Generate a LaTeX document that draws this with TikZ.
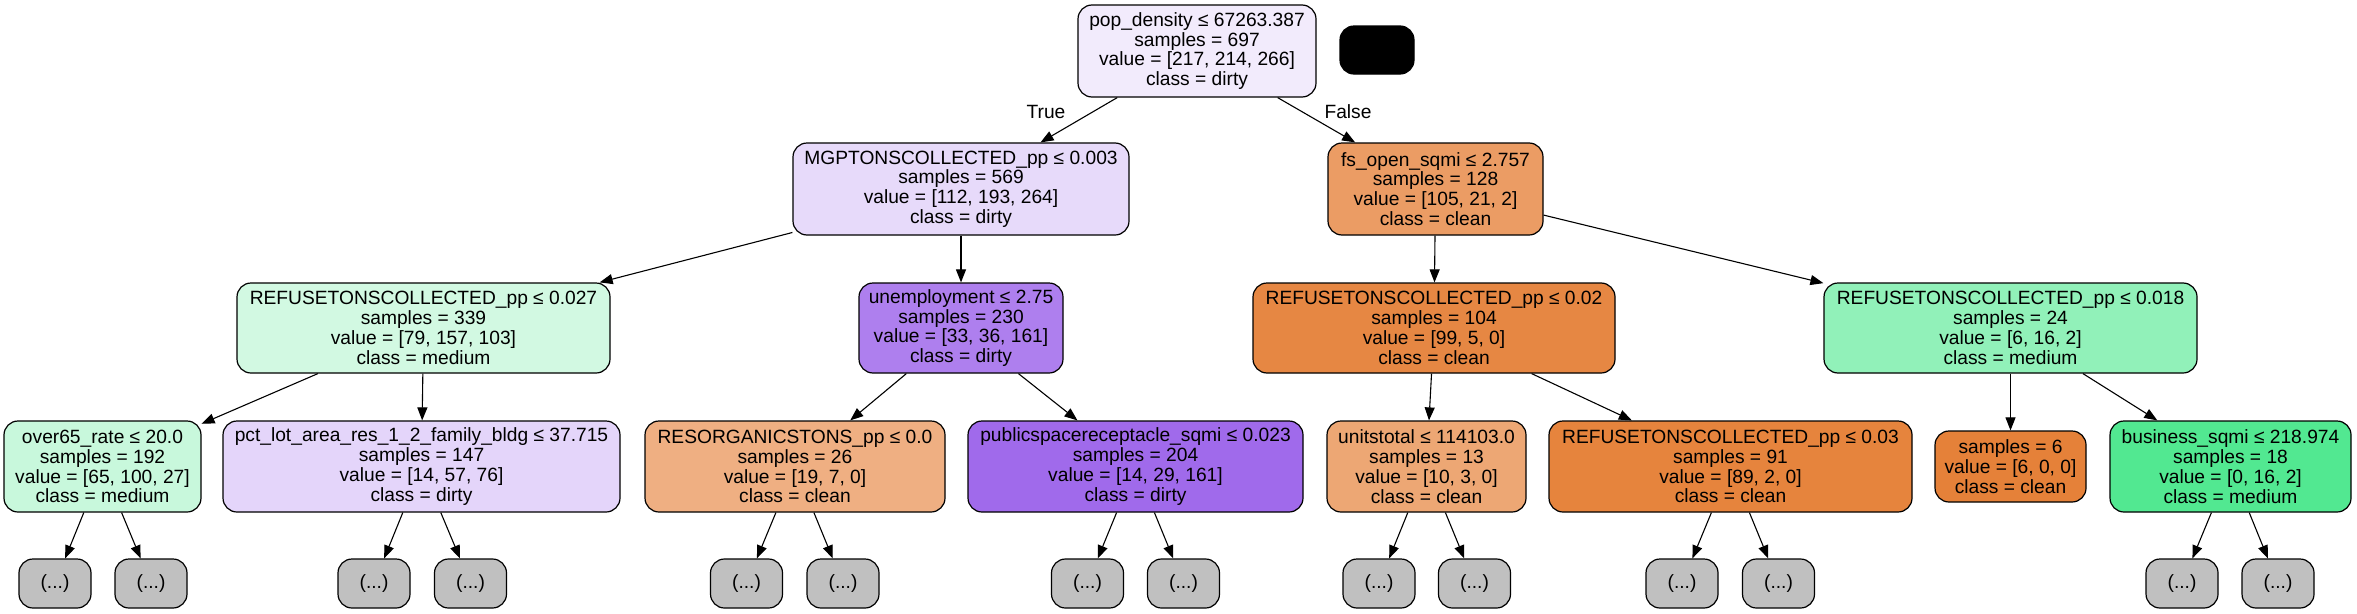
\documentclass[tikz,border=0pt]{standalone}
\usepackage{fontspec}
\setmainfont{Liberation Sans}
\usetikzlibrary{arrows.meta}
\definecolor{c0}{HTML}{F2EBFC}
\definecolor{c1}{HTML}{E7DAFA}
\definecolor{c2}{HTML}{EB9C64}
\definecolor{c3}{HTML}{D2F9E2}
\definecolor{c4}{HTML}{AE7FEE}
\definecolor{c5}{HTML}{E68743}
\definecolor{c6}{HTML}{91F1B9}
\definecolor{c7}{HTML}{C8F8DC}
\definecolor{c8}{HTML}{E4D5FA}
\definecolor{c9}{HTML}{EFAF82}
\definecolor{c10}{HTML}{A06AEB}
\definecolor{c11}{HTML}{EDA774}
\definecolor{c12}{HTML}{E6843D}
\definecolor{c13}{HTML}{E58139}
\definecolor{c14}{HTML}{52E891}
\definecolor{leafgray}{HTML}{C0C0C0}
\begin{document}
\begin{tikzpicture}[x=1pt,y=-1pt,
  treenode/.style={draw=black, line width=1.2pt, rounded corners=14pt, inner sep=0pt, align=center,
    font=\fontsize{19.2pt}{19.8pt}\selectfont},
  leafnode/.style={treenode, fill=leafgray, minimum width=72pt, minimum height=49pt},
  edgelabel/.style={inner sep=0pt, font=\fontsize{19.2pt}{19.8pt}\selectfont},
  conn/.style={draw=black, line width=1.1pt, -{Triangle[length=13pt,width=10pt]}}]
\path[fill=white, use as bounding box] (0,0) rectangle (2357,613);

\node[treenode, fill=c0, minimum width=238pt, minimum height=92pt] (root) at (1197,51)
  {pop\_density ≤ 67263.387\\samples = 697\\value = [217, 214, 266]\\class = dirty};
\node[treenode, fill=black, minimum width=74pt, minimum height=48pt] (blk) at (1377,50) {};

\node[treenode, fill=c1, minimum width=336pt, minimum height=92pt] (n1) at (961,189)
  {MGPTONSCOLLECTED\_pp ≤ 0.003\\samples = 569\\value = [112, 193, 264]\\class = dirty};
\node[treenode, fill=c2, minimum width=215pt, minimum height=92pt] (n2) at (1435.5,189)
  {fs\_open\_sqmi ≤ 2.757\\samples = 128\\value = [105, 21, 2]\\class = clean};

\node[treenode, fill=c3, minimum width=373pt, minimum height=90pt] (n3) at (423.5,328)
  {REFUSETONSCOLLECTED\_pp ≤ 0.027\\samples = 339\\value = [79, 157, 103]\\class = medium};
\node[treenode, fill=c4, minimum width=204pt, minimum height=90pt] (n4) at (961,328)
  {unemployment ≤ 2.75\\samples = 230\\value = [33, 36, 161]\\class = dirty};
\node[treenode, fill=c5, minimum width=362pt, minimum height=90pt] (n5) at (1434,328)
  {REFUSETONSCOLLECTED\_pp ≤ 0.02\\samples = 104\\value = [99, 5, 0]\\class = clean};
\node[treenode, fill=c6, minimum width=373pt, minimum height=90pt] (n6) at (2010.5,328)
  {REFUSETONSCOLLECTED\_pp ≤ 0.018\\samples = 24\\value = [6, 16, 2]\\class = medium};

\node[treenode, fill=c7, minimum width=197pt, minimum height=91pt] (n7) at (102.5,466.5)
  {over65\_rate ≤ 20.0\\samples = 192\\value = [65, 100, 27]\\class = medium};
\node[treenode, fill=c8, minimum width=397pt, minimum height=91pt] (n8) at (421.5,466.5)
  {pct\_lot\_area\_res\_1\_2\_family\_bldg ≤ 37.715\\samples = 147\\value = [14, 57, 76]\\class = dirty};
\node[treenode, fill=c9, minimum width=300pt, minimum height=91pt] (n9) at (795,466.5)
  {RESORGANICSTONS\_pp ≤ 0.0\\samples = 26\\value = [19, 7, 0]\\class = clean};
\node[treenode, fill=c10, minimum width=335pt, minimum height=91pt] (n10) at (1135.5,466.5)
  {publicspacereceptacle\_sqmi ≤ 0.023\\samples = 204\\value = [14, 29, 161]\\class = dirty};
\node[treenode, fill=c11, minimum width=199pt, minimum height=91pt] (n11) at (1426.5,466.5)
  {unitstotal ≤ 114103.0\\samples = 13\\value = [10, 3, 0]\\class = clean};
\node[treenode, fill=c12, minimum width=363pt, minimum height=91pt] (n12) at (1730.5,466.5)
  {REFUSETONSCOLLECTED\_pp ≤ 0.03\\samples = 91\\value = [89, 2, 0]\\class = clean};
\node[treenode, fill=c13, minimum width=151pt, minimum height=71pt] (n13) at (2010.5,466.5)
  {samples = 6\\value = [6, 0, 0]\\class = clean};
\node[treenode, fill=c14, minimum width=241pt, minimum height=91pt] (n14) at (2230.5,466.5)
  {business\_sqmi ≤ 218.974\\samples = 18\\value = [0, 16, 2]\\class = medium};

\node[leafnode] (l1) at (55,583.5) {(...)};
\node[leafnode] (l2) at (151,583.5) {(...)};
\node[leafnode] (l3) at (374,583.5) {(...)};
\node[leafnode] (l4) at (470.5,583.5) {(...)};
\node[leafnode] (l5) at (746.5,583.5) {(...)};
\node[leafnode] (l6) at (843,583.5) {(...)};
\node[leafnode] (l7) at (1087.5,583.5) {(...)};
\node[leafnode] (l8) at (1183.5,583.5) {(...)};
\node[leafnode] (l9) at (1379,583.5) {(...)};
\node[leafnode] (l10) at (1474.5,583.5) {(...)};
\node[leafnode] (l11) at (1682,583.5) {(...)};
\node[leafnode] (l12) at (1778.5,583.5) {(...)};
\node[leafnode] (l13) at (2182,583.5) {(...)};
\node[leafnode] (l14) at (2278,583.5) {(...)};

\node[edgelabel] (tl) at (1046,112) {True};
\node[edgelabel] (fl) at (1348,112) {False};

\draw[conn] (root) -- (n1);
\draw[conn] (root) -- (n2);
\draw[conn] (n1) -- (n3);
\draw[conn] (n1) -- (n4);
\draw[conn] (n2) -- (n5);
\draw[conn] (n2) -- (n6);
\draw[conn] (n3) -- (n7);
\draw[conn] (n3) -- (n8);
\draw[conn] (n4) -- (n9);
\draw[conn] (n4) -- (n10);
\draw[conn] (n5) -- (n11);
\draw[conn] (n5) -- (n12);
\draw[conn] (n6) -- (n13);
\draw[conn] (n6) -- (n14);
\draw[conn] (n7) -- (l1);
\draw[conn] (n7) -- (l2);
\draw[conn] (n8) -- (l3);
\draw[conn] (n8) -- (l4);
\draw[conn] (n9) -- (l5);
\draw[conn] (n9) -- (l6);
\draw[conn] (n10) -- (l7);
\draw[conn] (n10) -- (l8);
\draw[conn] (n11) -- (l9);
\draw[conn] (n11) -- (l10);
\draw[conn] (n12) -- (l11);
\draw[conn] (n12) -- (l12);
\draw[conn] (n14) -- (l13);
\draw[conn] (n14) -- (l14);
\end{tikzpicture}
\end{document}
